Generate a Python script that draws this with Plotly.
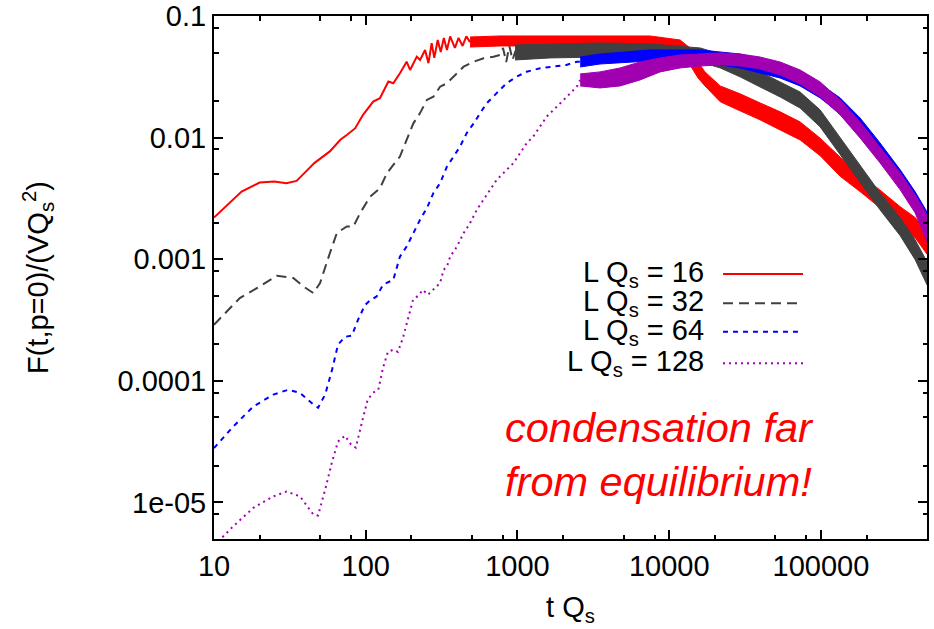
import plotly.graph_objects as go

# ---------------- data ----------------
# L Qs = 16 (red, solid): smooth early part, then noisy band
t16 = [10, 15.2, 20, 25, 30, 35, 40, 46, 58, 68, 75, 85, 96, 112, 124, 141, 152, 168, 186,
       196, 217, 228, 246, 259, 272, 283, 298, 312, 327, 343, 360, 387, 409, 435, 460, 487]
f16 = [2.2e-3, 3.6e-3, 4.27e-3, 4.35e-3, 4.22e-3, 4.4e-3, 5.2e-3, 6.2e-3, 7.7e-3, 9.6e-3,
       1.05e-2, 1.19e-2, 1.54e-2, 1.98e-2, 2.11e-2, 2.89e-2, 2.8e-2, 3.38e-2, 4.21e-2,
       3.6e-2, 4.63e-2, 4.35e-2, 5.26e-2, 4.09e-2, 5.97e-2, 4.52e-2, 6.35e-2, 5.06e-2,
       6.6e-2, 5.26e-2, 6.8e-2, 5.46e-2, 6.6e-2, 5.67e-2, 6.8e-2, 6.1e-2]
t16_band = [487, 767, 1640, 3500, 7480, 11800, 13700, 15500, 17200, 21700, 29300, 39700,
            53800, 72900, 98800, 134000, 181000, 245000, 333000, 418000, 500000]
f16_hi = [0.0672, 0.0685, 0.0685, 0.0685, 0.0685, 0.0635, 0.0546, 0.0419, 0.0347, 0.0266,
          0.0229, 0.0193, 0.0163, 0.01346, 0.0099, 0.0069, 0.0050, 0.0037, 0.0027, 0.0022,
          0.00168]
f16_lo = [0.0556, 0.0567, 0.0567, 0.0556, 0.0556, 0.0478, 0.0396, 0.0309, 0.0266, 0.0197,
          0.0166, 0.0140, 0.01157, 0.00957, 0.0071, 0.0048, 0.0036, 0.00265, 0.0019, 0.0015,
          0.0011]

# L Qs = 32 (dark grey, dashed)
t32 = [10, 14.8, 20, 25.9, 33.3, 38.8, 45.2, 50, 58, 64.5, 75, 83, 91.7, 107, 124, 138, 152,
       168, 186, 206, 228, 253, 279, 309, 343, 399, 442, 515, 598, 695, 767, 803, 843, 884,
       928, 973]
f32 = [2.89e-4, 4.79e-4, 5.97e-4, 7.31e-4, 7.0e-4, 5.97e-4, 5.26e-4, 6.37e-4, 1.12e-3,
       1.64e-3, 1.86e-3, 1.86e-3, 2.39e-3, 3.27e-3, 3.83e-3, 5.1e-3, 5.97e-3, 6.98e-3,
       9.57e-3, 1.31e-2, 1.59e-2, 2.04e-2, 2.17e-2, 2.62e-2, 2.8e-2, 3.38e-2, 3.83e-2,
       4.21e-2, 4.49e-2, 4.63e-2, 4.78e-2, 5.46e-2, 4.19e-2, 5.67e-2, 4.35e-2, 5.2e-2]
t32_band = [964, 1640, 3500, 7480, 16000, 21700, 29300, 39700, 53800, 72900, 98800, 134000,
            181000, 245000, 333000, 418000, 500000]
f32_hi = [0.0578, 0.0589, 0.060, 0.0589, 0.0546, 0.0487, 0.0419, 0.0347, 0.0287, 0.0237,
          0.0169, 0.00994, 0.00597, 0.00351, 0.00219, 0.00144, 0.000952]
f32_lo = [0.0435, 0.0452, 0.046, 0.0452, 0.0419, 0.0374, 0.0316, 0.0261, 0.0216, 0.0175,
          0.01225, 0.00721, 0.00433, 0.00255, 0.00156, 0.000989, 0.000616]

# L Qs = 64 (blue, short dashes)
t64 = [10, 13.4, 18.2, 24.6, 30.9, 36.9, 45.2, 48.5, 54, 60, 65.6, 73, 81, 89, 99, 107, 118,
       130, 152, 168, 186, 206, 228, 253, 279, 309, 343, 379, 418, 463, 515, 567, 628, 729,
       848, 987, 1150, 1410, 1720, 2100, 2470, 2590]
f64 = [2.8e-5, 4.21e-5, 6.16e-5, 7.69e-5, 8.45e-5, 7.94e-5, 6.37e-5, 6.0e-5, 7.7e-5,
       1.23e-4, 1.98e-4, 2.3e-4, 2.35e-4, 3.18e-4, 4.2e-4, 4.6e-4, 4.94e-4, 6.17e-4,
       6.77e-4, 1.05e-3, 1.27e-3, 1.64e-3, 2.11e-3, 2.63e-3, 3.49e-3, 4.22e-3, 5.78e-3,
       6.98e-3, 8.43e-3, 1.09e-2, 1.31e-2, 1.59e-2, 1.92e-2, 2.32e-2, 2.8e-2, 3.17e-2,
       3.48e-2, 3.72e-2, 3.83e-2, 3.96e-2, 4.21e-2, 4.2e-2]
t64_band = [2590, 3500, 7480, 16000, 29300, 53800, 72900, 98800, 134000, 181000, 245000,
            333000, 418000, 500000]
f64_hi = [0.046, 0.0487, 0.0526, 0.0526, 0.0487, 0.0403, 0.0347, 0.0276, 0.0212, 0.01452,
          0.00904, 0.00543, 0.00358, 0.00245]
f64_lo = [0.0381, 0.0403, 0.0427, 0.0419, 0.0374, 0.0309, 0.0266, 0.0212, 0.01567, 0.01052,
          0.00656, 0.00394, 0.00255, 0.0015]

# L Qs = 128 (purple, dotted)
t128 = [10, 11.2, 13.4, 18.2, 24.6, 30.1, 36.9, 45.2, 48.5, 54, 60, 65.6, 73, 80, 86, 94.6,
        103, 112, 121, 130, 140, 152, 163, 176, 190, 205, 221, 238, 257, 279, 309, 326, 343,
        360, 399, 442, 487, 540, 598, 659, 729, 848, 940, 1040, 1150, 1270, 1410, 1560, 1820,
        2110, 2460, 2590]
f128 = [4.4e-6, 5.1e-6, 6.37e-6, 9.02e-6, 1.12e-5, 1.23e-5, 1.12e-5, 7.94e-6, 7.8e-6,
        1.27e-5, 2.16e-5, 3.16e-5, 3.54e-5, 2.99e-5, 2.82e-5, 4.61e-5, 7.0e-5, 7.98e-5,
        8.45e-5, 1.28e-4, 1.73e-4, 1.8e-4, 1.73e-4, 2.26e-4, 3.3e-4, 4.64e-4, 5.0e-4,
        5.6e-4, 5.1e-4, 5.6e-4, 6.37e-4, 8.18e-4, 8.71e-4, 1.05e-3, 1.27e-3, 1.64e-3,
        1.98e-3, 2.55e-3, 3.08e-3, 3.72e-3, 4.49e-3, 5.43e-3, 6.17e-3, 7.45e-3, 9.0e-3,
        1.02e-2, 1.23e-2, 1.49e-2, 1.8e-2, 2.17e-2, 2.62e-2, 2.98e-2]
t128_band = [2590, 3500, 4750, 6430, 8710, 11800, 16000, 21700, 29300, 39700, 53800, 72900,
             98800, 134000, 181000, 245000, 333000, 418000, 500000]
f128_hi = [0.0334, 0.0347, 0.0374, 0.0419, 0.0452, 0.0478, 0.0487, 0.0497, 0.0487, 0.046,
           0.0419, 0.036, 0.0287, 0.0204, 0.01346, 0.00839, 0.00513, 0.00338, 0.00232]
f128_lo = [0.0266, 0.0256, 0.0266, 0.0298, 0.0347, 0.0374, 0.0388, 0.0396, 0.0388, 0.0367,
           0.0328, 0.0276, 0.0216, 0.01537, 0.00994, 0.0062, 0.00372, 0.0024, 0.00139]

labels = ["L Q<sub>s</sub> = 16", "L Q<sub>s</sub> = 32", "L Q<sub>s</sub> = 64",
          "L Q<sub>s</sub> = 128"]
x_tickvals = [10, 100, 1000, 10000, 100000]
x_ticktext = ["10", "100", "1000", "10000", "100000"]
y_tickvals = [1e-5, 1e-4, 1e-3, 1e-2, 1e-1]
y_ticktext = ["1e-05", "0.0001", "0.001", "0.01", "0.1"]
x_minor = [m * 10 ** k for k in range(1, 6) for m in (2, 5, 8)]
y_minor = [m * 10.0 ** k for k in range(-6, -1) for m in (2, 5, 8)]

# ---------------- styling ----------------
colors = ["#ff0000", "#404040", "#0000ff", "#a000b0"]
dashes = ["solid", "10px,6px", "5px,5px", "2px,4px"]
FONT = "Liberation Sans, Arial, sans-serif"

series = [
    (t16, f16, t16_band, f16_hi, f16_lo),
    (t32, f32, t32_band, f32_hi, f32_lo),
    (t64, f64, t64_band, f64_hi, f64_lo),
    (t128, f128, t128_band, f128_hi, f128_lo),
]

fig = go.Figure()
for (t, f, tb, hi, lo), c, d, name in zip(series, colors, dashes, labels):
    fig.add_trace(go.Scatter(x=t, y=f, mode="lines", name=name, showlegend=False,
                             line=dict(color=c, width=2, dash=d)))
    fig.add_trace(go.Scatter(x=tb + tb[::-1], y=hi + lo[::-1], mode="lines", fill="toself",
                             fillcolor=c, name=name, showlegend=False, hoverinfo="skip",
                             line=dict(color=c, width=1)))

axis_common = dict(
    type="log", showgrid=False, zeroline=False, showline=True, linecolor="black",
    linewidth=2, mirror="allticks", ticks="inside", ticklen=9, tickwidth=1.5,
    tickcolor="black", tickfont=dict(family=FONT, size=29, color="black"),
    automargin=False,
)
fig.update_xaxes(**axis_common, range=[1, 5.69897], tickmode="array",
                 tickvals=x_tickvals, ticktext=x_ticktext,
                 minor=dict(ticks="inside", ticklen=4.5, tickwidth=1.5, tickcolor="black",
                            tickmode="array", tickvals=x_minor),
                 title=dict(text="t Q<sub>s</sub>", font=dict(family=FONT, size=29,
                                                              color="black"), standoff=16))
fig.update_yaxes(**axis_common, range=[-5.30103, -1], tickmode="array",
                 tickvals=y_tickvals, ticktext=y_ticktext,
                 minor=dict(ticks="inside", ticklen=4.5, tickwidth=1.5, tickcolor="black",
                            tickmode="array", tickvals=y_minor),
                 title=dict(text="F(t,p=0)/(VQ<sub>s</sub><sup>2</sup>)",
                            font=dict(family=FONT, size=29, color="black"), standoff=60))

# manual key (text right-aligned, sample to the right, as in the original)
PW, PH, L0, T0 = 713.0, 523.0, 214.0, 16.0
key_rows = [274, 303.3, 331.7, 363.3]
for lab, c, d, py in zip(labels, colors, dashes, key_rows):
    yp = 1 - (py - T0) / PH
    fig.add_annotation(x=(706 - L0) / PW, y=yp, xref="paper", yref="paper", text=lab,
                       showarrow=False, xanchor="right", yanchor="middle",
                       font=dict(family=FONT, size=29, color="black"))
    fig.add_shape(type="line", xref="paper", yref="paper", x0=(723 - L0) / PW,
                  x1=(803 - L0) / PW, y0=yp, y1=yp, line=dict(color=c, width=2, dash=d))

fig.add_annotation(x=(659 - L0) / PW, y=1 - (454 - T0) / PH, xref="paper", yref="paper",
                   text="<i>condensation far<br>from equilibrium!</i>", showarrow=False,
                   xanchor="center", yanchor="middle", align="center",
                   font=dict(family=FONT, size=41.5, color="#ff0000"))

fig.update_layout(width=934, height=629, margin=dict(l=214, r=7, t=16, b=90),
                  plot_bgcolor="white", paper_bgcolor="white",
                  font=dict(family=FONT, size=29, color="black"), showlegend=False)

fig.write_html("out.html", config={"displayModeBar": False},
               post_script="document.body.style.margin='0px';"
                           "document.body.style.overflow='hidden';")
